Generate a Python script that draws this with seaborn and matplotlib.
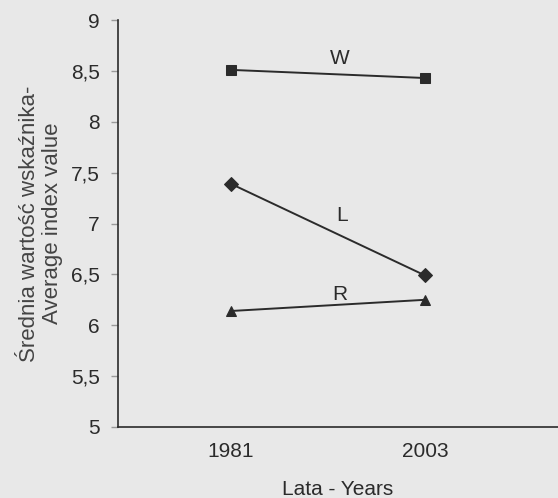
import numpy as np
import matplotlib
matplotlib.use('Agg')
import matplotlib.pyplot as plt
import pandas as pd
import seaborn as sns

years = ['1981', '2003']
w_values = [8.51, 8.43]
l_values = [7.39, 6.49]
r_values = [6.14, 6.25]
series_names = ['W', 'L', 'R']
y_ticks = [5, 5.5, 6, 6.5, 7, 7.5, 8, 8.5, 9]
y_tick_labels = ['5', '5,5', '6', '6,5', '7', '7,5', '8', '8,5', '9']

df = pd.DataFrame({
    'year': years * 3,
    'value': w_values + l_values + r_values,
    'series': [s for s in series_names for _ in years],
})

sns.set_style('white')
plt.rcParams['font.family'] = ['Liberation Sans', 'DejaVu Sans']
bg = '#e8e8e8'
ink = '#2b2b2b'

fig = plt.figure(figsize=(5.58, 4.98), dpi=100, facecolor=bg)
ax = fig.add_axes([0.2115, 0.1426, 0.7885, 0.8172])
ax.set_facecolor(bg)

sns.lineplot(data=df, x='year', y='value', hue='series', style='series',
             markers={'W': 's', 'L': 'D', 'R': '^'}, dashes=False,
             palette={'W': ink, 'L': ink, 'R': ink}, markersize=7,
             linewidth=1.4, markeredgecolor=ink, legend=False, ax=ax)

ax.set_xlim(-0.582, 1.686)
ax.set_ylim(5, 9)
ax.set_yticks(y_ticks)
ax.set_yticklabels(y_tick_labels)

# series labels above the lines
ax.text(0.56, 8.62, 'W', ha='center', va='center', fontsize=15, color=ink)
ax.text(0.575, 7.08, 'L', ha='center', va='center', fontsize=15, color=ink)
ax.text(0.56, 6.3, 'R', ha='center', va='center', fontsize=15, color=ink)

ax.spines['top'].set_visible(False)
ax.spines['right'].set_visible(False)
for side in ['left', 'bottom']:
    ax.spines[side].set_color(ink)
    ax.spines[side].set_linewidth(1.2)

ax.tick_params(axis='y', left=True, length=5, width=1, color='#999999',
               labelsize=15, labelcolor=ink, pad=8)
ax.tick_params(axis='x', bottom=False, labelsize=15, labelcolor=ink, pad=7)

ax.set_xlabel('Lata - Years', fontsize=15, color=ink, labelpad=14)
ax.set_ylabel('Średnia wartość wskaźnika-\nAverage index value', fontsize=16,
              color='#444444', labelpad=6, linespacing=1.1)

fig.savefig('out.png', dpi=100, facecolor=bg)
